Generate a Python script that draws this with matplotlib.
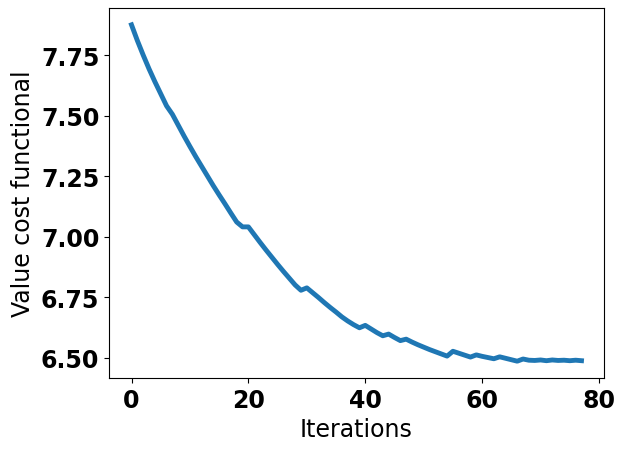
import matplotlib
matplotlib.use("Agg")
import matplotlib.pyplot as plt
import numpy as np

iterations = list(range(78))
cost_values = [
    7.875, 7.810, 7.750, 7.693, 7.640, 7.590, 7.540, 7.505, 7.460, 7.415,
    7.372, 7.330, 7.290, 7.250, 7.210, 7.172, 7.135, 7.097, 7.060, 7.040,
    7.040, 7.008, 6.976, 6.945, 6.915, 6.885, 6.856, 6.828, 6.800, 6.778,
    6.788, 6.768, 6.748, 6.727, 6.707, 6.688, 6.668, 6.651, 6.636, 6.623,
    6.633, 6.618, 6.603, 6.590, 6.597, 6.583, 6.570, 6.576, 6.564, 6.553,
    6.543, 6.533, 6.524, 6.515, 6.506, 6.526, 6.518, 6.510, 6.502, 6.511,
    6.505, 6.500, 6.495, 6.503, 6.497, 6.491, 6.485, 6.494, 6.489, 6.488,
    6.490, 6.487, 6.490, 6.488, 6.489, 6.487, 6.489, 6.487,
]
x_ticks = [0, 20, 40, 60, 80]
y_ticks = [6.50, 6.75, 7.00, 7.25, 7.50, 7.75]

fig = plt.figure(figsize=(6.25, 4.52), dpi=100)
ax = fig.add_axes([109/625, 1-379/452, (604-109)/625, (379-9)/452])
ax.plot(iterations, cost_values, color="#1f77b4", linewidth=3.5)
ax.set_xticks(x_ticks)
ax.set_yticks(y_ticks)
ax.set_yticklabels([f"{v:.2f}" for v in y_ticks])
for lab in ax.get_xticklabels() + ax.get_yticklabels():
    lab.set_fontsize(17)
    lab.set_fontweight("bold")
ax.set_xlabel("Iterations", fontsize=17)
ax.set_ylabel("Value cost functional", fontsize=17)
fig.savefig("out.png", dpi=100)
